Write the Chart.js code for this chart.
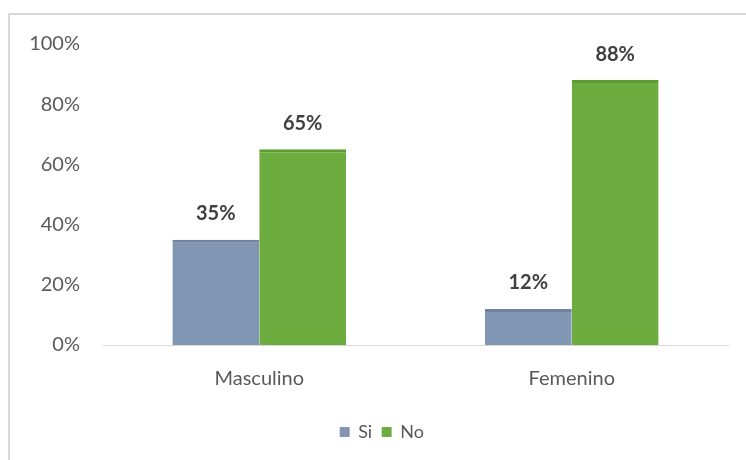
<!DOCTYPE html>
<html>
<head>
<meta charset="utf-8">
<script src="https://cdn.jsdelivr.net/npm/chart.js@4"></script>
<style>
  html, body { margin: 0; padding: 0; background: #fff; overflow: hidden; }
  #wrap { position: relative; width: 746px; height: 460px; }
  #frame { position: absolute; left: 8px; top: 13px; width: 800px; height: 500px; border: 2px solid #d9d9d9; box-sizing: border-box; }
  canvas { position: absolute; left: 0; top: 0; }
</style>
</head>
<body>
<div id="wrap">
  <div id="frame"></div>
  <canvas id="chart" width="746" height="460"></canvas>
</div>
<script>
// categories and series (percentages)
const categories = ["Masculino", "Femenino"];
const siValues = [35, 12];
const noValues = [65, 88];
const yTicks = [0, 20, 40, 60, 80, 100];

const textColor = "#595959";
const fontFamily = "Lato, 'Open Sans', sans-serif";

// write the value above every bar
const barLabels = {
    id: "barLabels",
    afterDatasetsDraw(chart) {
        const ctx = chart.ctx;
        ctx.save();
        ctx.font = "bold 20px " + fontFamily;
        ctx.fillStyle = "#404040";
        ctx.textAlign = "center";
        ctx.textBaseline = "middle";
        chart.data.datasets.forEach((ds, i) => {
            chart.getDatasetMeta(i).data.forEach((bar, j) => {
                ctx.fillText(ds.data[j] + "%", bar.x, bar.y - 26);
            });
        });
        ctx.restore();
    }
};

// legend sits a little right of the canvas centre
const legendShift = {
    id: "legendShift",
    afterLayout(chart) {
        chart.legend.left += 18;
        chart.legend.right += 18;
    }
};

new Chart(document.getElementById("chart"), {
    type: "bar",
    data: {
        labels: categories,
        datasets: [{
            label: "Si",
            data: siValues,
            backgroundColor: "#8196b3",
            borderColor: "#7084a1",
            borderWidth: { top: 3, left: 0, right: 0, bottom: 0 },
            borderSkipped: false
        }, {
            label: "No",
            data: noValues,
            backgroundColor: "#6dad3f",
            borderColor: "#5d9b33",
            borderWidth: { top: 3, left: 0, right: 0, bottom: 0 },
            borderSkipped: false
        }]
    },
    options: {
        responsive: false,
        animation: false,
        layout: { padding: { left: 0, right: 18, top: 44, bottom: 9 } },
        datasets: {
            bar: { barPercentage: 1, categoryPercentage: 0.556 }
        },
        scales: {
            x: {
                grid: { display: false, drawTicks: false },
                border: { display: true, color: "#d9d9d9", width: 1 },
                ticks: { color: textColor, font: { family: fontFamily, size: 20 }, padding: 22 },
                afterFit: scale => { scale.height = 68; }
            },
            y: {
                min: 0,
                max: 100,
                afterBuildTicks: scale => { scale.ticks = yTicks.map(v => ({ value: v })); },
                grid: { display: false, drawTicks: false },
                border: { display: false },
                ticks: {
                    color: textColor,
                    font: { family: fontFamily, size: 20 },
                    padding: 23,
                    callback: v => v + "%"
                },
                afterFit: scale => { scale.width = 103; }
            }
        },
        plugins: {
            legend: {
                position: "bottom",
                labels: {
                    color: textColor,
                    font: { family: fontFamily, size: 18 },
                    boxWidth: 9,
                    boxHeight: 9,
                    padding: 10
                }
            },
            tooltip: { enabled: false }
        }
    },
    plugins: [barLabels, legendShift]
});
</script>
</body>
</html>
